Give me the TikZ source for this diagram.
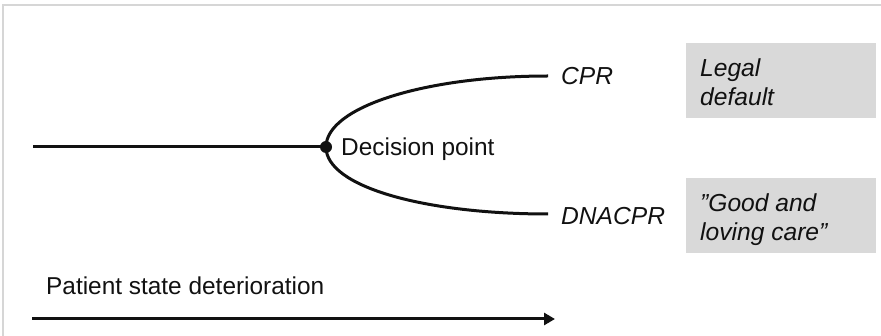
\documentclass[tikz,border=0pt]{standalone}
\usepackage{fontspec}
\setmainfont{Liberation Sans}
\usetikzlibrary{arrows.meta}
\definecolor{framegray}{HTML}{D6D6D6}
\definecolor{boxgray}{HTML}{D9D9D9}
\definecolor{ink}{HTML}{111111}
\begin{document}
\begin{tikzpicture}[x=1pt,y=-1pt,
  line/.style={draw=ink, line width=3pt},
  txt/.style={inner sep=0pt, text=ink, font=\fontsize{24.4}{29.5}\selectfont},
  itxt/.style={txt, font=\fontsize{24.6}{29.5}\selectfont\itshape},
  graybox/.style={fill=boxgray, draw=none, minimum width=190pt, minimum height=75pt, inner sep=0pt},
]
\useasboundingbox (0,0) rectangle (881,336);
% frame
\draw[framegray, line width=2pt] (3,336) -- (3,5) -- (881,5);

% timeline and decision point
\coordinate (start) at (33,147);
\node[circle, fill=ink, inner sep=0pt, minimum size=12pt] (dp) at (326,147) {};
\coordinate (cprend) at (548,76);
\coordinate (dnaend) at (548,214);
\draw[line] (start) -- (dp.center);
\draw[line] (dp.center) .. controls (326,107) and (425,76) .. (cprend);
\draw[line] (dp.center) .. controls (326,187) and (425,214) .. (dnaend);

\node[txt, anchor=base west] (dplabel) at (341,156) {Decision point};
\node[itxt, anchor=base west] (cpr) at (561,85) {CPR};
\node[itxt, anchor=base west] (dnacpr) at (561,225) {DNACPR};

% gray boxes
\node[graybox, anchor=north west] (box1) at (686,43) {};
\node[graybox, anchor=north west] (box2) at (686,178) {};
\node[itxt, anchor=north west, align=left] (legal) at ([xshift=14pt,yshift=-15pt]box1.north west) {Legal\\default};
\node[itxt, anchor=north west, align=left] (good) at ([xshift=14pt,yshift=-15pt]box2.north west) {”Good and\\loving care”};

% bottom arrow
\node[txt, anchor=base west] (patient) at (46,295) {Patient state deterioration};
\coordinate (astart) at (32,319);
\coordinate (aend) at (555,319);
\draw[line, -{Triangle[length=11pt,width=12pt]}] (astart) -- (aend);
\end{tikzpicture}
\end{document}
